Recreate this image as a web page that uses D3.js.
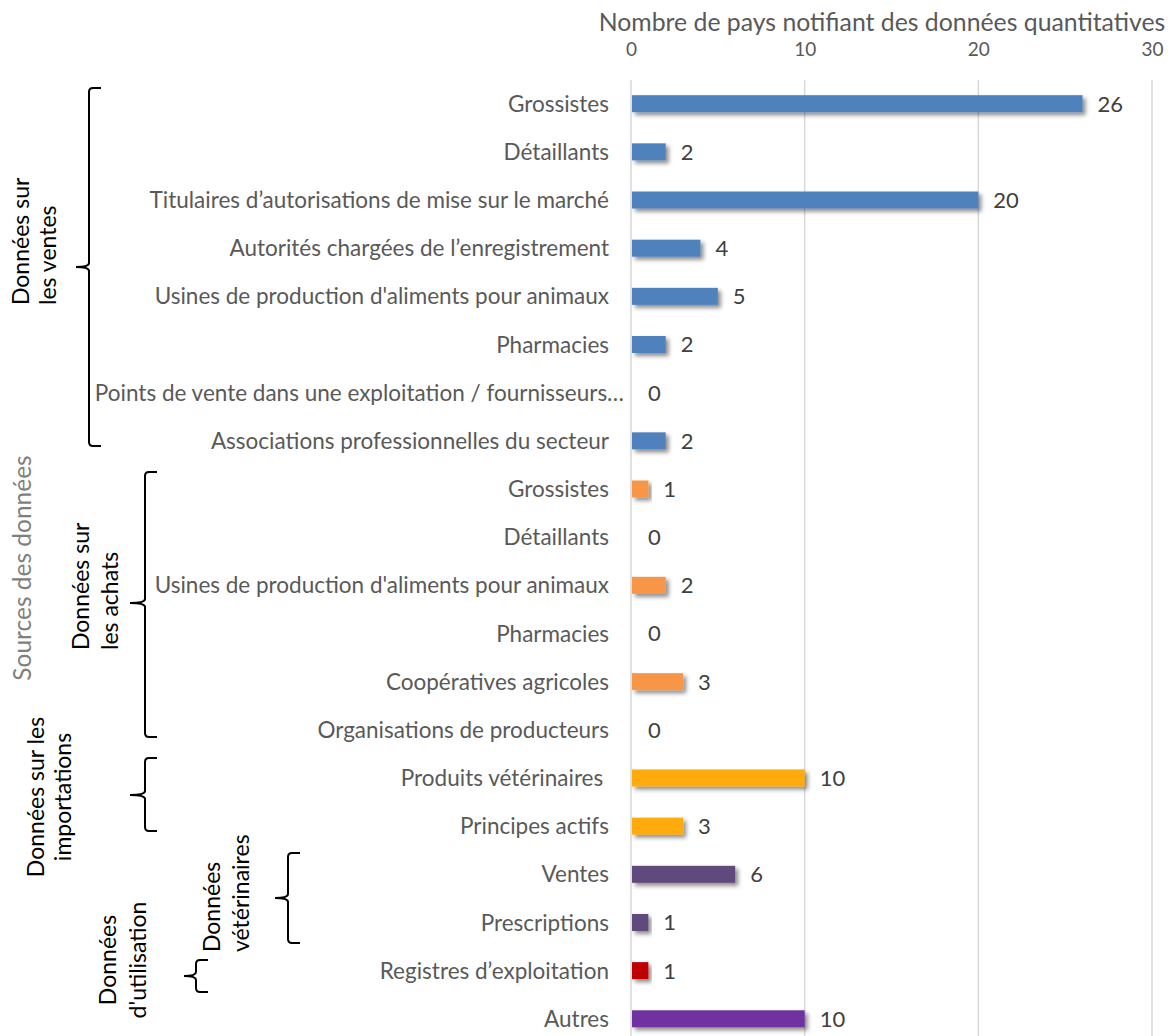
<!DOCTYPE html>
<html>
<head>
<meta charset="utf-8">
<script src="https://cdn.jsdelivr.net/npm/d3@7"></script>
<style>
  html, body { margin: 0; padding: 0; background: #fff; }
  svg { display: block; font-family: "Lato", "Open Sans", sans-serif; }
  .cat { white-space: pre; }
</style>
</head>
<body>
<svg id="chart" width="1169" height="1036"></svg>
<script>
// Rows, top to bottom
const categories = [
  "Grossistes",
  "Détaillants",
  "Titulaires d’autorisations de mise sur le marché",
  "Autorités chargées de l’enregistrement",
  "Usines de production d'aliments pour animaux",
  "Pharmacies",
  "Points de vente dans une exploitation / fournisseurs…",
  "Associations professionnelles du secteur",
  "Grossistes",
  "Détaillants",
  "Usines de production d'aliments pour animaux",
  "Pharmacies",
  "Coopératives agricoles",
  "Organisations de producteurs",
  "Produits vétérinaires ",
  "Principes actifs",
  "Ventes",
  "Prescriptions",
  "Registres d’exploitation",
  "Autres"
];

// Number of countries reporting quantitative data
const values = [26, 2, 20, 4, 5, 2, 0, 2, 1, 0, 2, 0, 3, 0, 10, 3, 6, 1, 1, 10];

// Source group of each row
const groups = [
  "ventes", "ventes", "ventes", "ventes", "ventes", "ventes", "ventes", "ventes",
  "achats", "achats", "achats", "achats", "achats", "achats",
  "importations", "importations",
  "veterinaires", "veterinaires",
  "exploitation",
  "autres"
];

const groupKeys = ["ventes", "achats", "importations", "veterinaires", "exploitation", "autres"];
const groupColors = ["#4f81bd", "#f79646", "#ffab0f", "#604a7b", "#c00000", "#7030a0"];

const xTicks = [0, 10, 20, 30];
const xTitle = "Nombre de pays notifiant des données quantitatives";

const svg = d3.select("#chart");
const W = 1169, H = 1036;

const x = d3.scaleLinear().domain([0, 30]).range([631, 1152]);
const y = d3.scalePoint().domain(d3.range(categories.length)).range([103.7, 1018.8]);
const color = d3.scaleOrdinal().domain(groupKeys).range(groupColors);
const barH = 17;

// Bar shadow
const defs = svg.append("defs");
const f = defs.append("filter").attr("id", "shadow")
  .attr("x", "-10%").attr("y", "-50%").attr("width", "130%").attr("height", "250%");
f.append("feDropShadow").attr("dx", 3).attr("dy", 3).attr("stdDeviation", 2)
  .attr("flood-color", "#000").attr("flood-opacity", 0.45);

// Vertical gridlines
svg.append("g").selectAll("line").data(xTicks).join("line")
  .attr("x1", d => x(d)).attr("x2", d => x(d))
  .attr("y1", 80).attr("y2", H)
  .attr("stroke", "#d9d9d9").attr("stroke-width", 1.5);

// Top axis labels and title
const axis = svg.append("g").attr("transform", "translate(0,56)")
  .call(d3.axisTop(x).tickValues(xTicks).tickSize(0).tickPadding(0).tickFormat(d3.format("d")));
axis.select(".domain").remove();
axis.selectAll("text").attr("fill", "#595959").style("font-size", "19px")
  .style("font-family", "Lato, sans-serif");

svg.append("text").attr("x", 882).attr("y", 31).attr("text-anchor", "middle")
  .attr("fill", "#595959").style("font-size", "24.8px").text(xTitle);

// Bars
const idx = d3.range(categories.length);
svg.append("g").selectAll("rect").data(idx).join("rect")
  .attr("x", x(0) + 1)
  .attr("y", i => y(i) - barH / 2)
  .attr("width", i => Math.max(0, x(values[i]) - x(0) - 1))
  .attr("height", barH)
  .attr("fill", i => color(groups[i]))
  .attr("filter", i => values[i] > 0 ? "url(#shadow)" : null);

// Value labels
svg.append("g").selectAll("text").data(idx).join("text")
  .attr("x", i => x(values[i]) + (values[i] > 0 ? 15 : 17))
  .attr("y", i => y(i))
  .attr("dy", "0.36em")
  .attr("fill", "#404040")
  .style("font-size", "22px")
  .text(i => values[i]);

// Category labels
svg.append("g").selectAll("text").data(idx).join("text")
  .attr("class", "cat")
  .attr("x", i => categories[i].endsWith("…") ? 624 : 609)
  .attr("y", i => y(i))
  .attr("dy", "0.36em")
  .attr("text-anchor", "end")
  .attr("fill", "#595959")
  .style("font-size", "22.5px")
  .text(i => categories[i]);

// Group braces
const braces = [
  { top: 88,  bottom: 446, tip: 267, xm: 89,  xr: 101, xt: 76 },
  { top: 472, bottom: 737, tip: 603, xm: 145, xr: 157, xt: 130 },
  { top: 758, bottom: 831, tip: 795, xm: 145, xr: 157, xt: 130 },
  { top: 853, bottom: 943, tip: 898, xm: 288, xr: 300, xt: 275 },
  { top: 960, bottom: 992, tip: 976, xm: 196, xr: 208, xt: 184 }
];
function bracePath(b) {
  const r = 4;
  const p = d3.path();
  p.moveTo(b.xr, b.top);
  p.lineTo(b.xm + r, b.top);
  p.quadraticCurveTo(b.xm, b.top, b.xm, b.top + r);
  p.lineTo(b.xm, b.tip - r);
  p.quadraticCurveTo(b.xm, b.tip, b.xt, b.tip);
  p.quadraticCurveTo(b.xm, b.tip, b.xm, b.tip + r);
  p.lineTo(b.xm, b.bottom - r);
  p.quadraticCurveTo(b.xm, b.bottom, b.xm + r, b.bottom);
  p.lineTo(b.xr, b.bottom);
  return p.toString();
}
svg.append("g").selectAll("path").data(braces).join("path")
  .attr("d", bracePath)
  .attr("fill", "none").attr("stroke", "#000").attr("stroke-width", 2);

// Rotated group captions
const captions = [
  { lines: ["Données sur", "les ventes"], xs: [21, 48], y: 305, anchor: "start", fill: "#000", size: 23 },
  { lines: ["Sources des données"], xs: [22], y: 568, anchor: "middle", fill: "#7f7f7f", size: 24.5 },
  { lines: ["Données sur", "les achats"], xs: [81, 110], y: 650, anchor: "start", fill: "#000", size: 23 },
  { lines: ["Données sur les", "importations"], xs: [36, 63], y: 797, anchor: "middle", fill: "#000", size: 23 },
  { lines: ["Données", "d'utilisation"], xs: [108, 138], y: 960, anchor: "middle", fill: "#000", size: 23 },
  { lines: ["Données", "vétérinaires"], xs: [212, 241], y: 952, anchor: "start", fill: "#000", size: 23 }
];
const capG = svg.append("g");
captions.forEach(c => {
  c.lines.forEach((line, k) => {
    capG.append("text")
      .attr("transform", `translate(${c.xs[k]},${c.y}) rotate(-90)`)
      .attr("text-anchor", c.anchor)
      .attr("dy", "0.36em")
      .attr("fill", c.fill)
      .style("font-size", c.size + "px")
      .text(line);
  });
});
</script>
</body>
</html>
